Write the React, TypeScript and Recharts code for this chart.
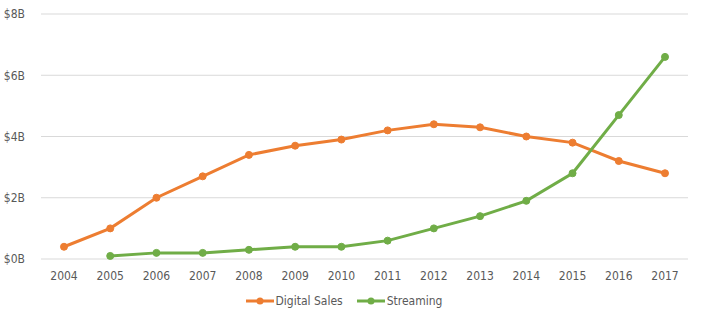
import React from "react";
import { LineChart, Line, XAxis, YAxis, CartesianGrid, Legend } from "recharts";

const years = ["2004", "2005", "2006", "2007", "2008", "2009", "2010", "2011", "2012", "2013", "2014", "2015", "2016", "2017"];
const digitalSales = [0.4, 1.0, 2.0, 2.7, 3.4, 3.7, 3.9, 4.2, 4.4, 4.3, 4.0, 3.8, 3.2, 2.8];
const streaming = [null, 0.1, 0.2, 0.2, 0.3, 0.4, 0.4, 0.6, 1.0, 1.4, 1.9, 2.8, 4.7, 6.6];
const yTicks = [0, 2, 4, 6, 8];

const ORANGE = "#ED7D31";
const GREEN = "#70AD47";
const TEXT = "#595959";
const FONT = "'DejaVu Sans Condensed', 'Liberation Sans Narrow', 'DejaVu Sans', sans-serif";

const data = years.map((y, i) => ({ year: y, digital: digitalSales[i], streaming: streaming[i] }));

const LegendContent = () => {
  const items = [
    { label: "Digital Sales", color: ORANGE },
    { label: "Streaming", color: GREEN },
  ];
  return (
    <div style={{ display: "flex", justifyContent: "center", gap: 14, paddingTop: 9, fontFamily: FONT, fontSize: 12, color: TEXT }}>
      {items.map((it) => (
        <div key={it.label} style={{ display: "flex", alignItems: "center", gap: 2 }}>
          <svg width={28} height={10}>
            <line x1={0} y1={5} x2={28} y2={5} stroke={it.color} strokeWidth={3} />
            <circle cx={14} cy={5} r={3.5} fill={it.color} />
          </svg>
          <span>{it.label}</span>
        </div>
      ))}
    </div>
  );
};

export default function App() {
  return (
    <div style={{ position: "absolute", left: 0, top: 0, background: "#fff" }}>
      <LineChart width={702} height={321} data={data} margin={{ top: 14, right: 14, left: 0, bottom: 0 }}>
        <CartesianGrid vertical={false} stroke="#d9d9d9" strokeWidth={1} />
        <XAxis
          dataKey="year"
          axisLine={false}
          tickLine={false}
          padding={{ left: 23, right: 23 }}
          tick={{ fill: TEXT, fontSize: 12, fontFamily: FONT }}
          height={26}
          tickMargin={6}
        />
        <YAxis
          domain={[0, 8]}
          ticks={yTicks}
          axisLine={false}
          tickLine={false}
          width={41}
          tickMargin={10}
          tickFormatter={(v) => `$${v}B`}
          tick={{ fill: TEXT, fontSize: 12, fontFamily: FONT }}
        />
        <Legend verticalAlign="bottom" height={36} content={<LegendContent />} wrapperStyle={{ height: 36 }} />
        <Line
          type="linear"
          dataKey="digital"
          name="Digital Sales"
          stroke={ORANGE}
          strokeWidth={3}
          dot={{ r: 3.5, fill: ORANGE, stroke: ORANGE, strokeWidth: 1 }}
          isAnimationActive={false}
        />
        <Line
          type="linear"
          dataKey="streaming"
          name="Streaming"
          stroke={GREEN}
          strokeWidth={3}
          dot={{ r: 3.5, fill: GREEN, stroke: GREEN, strokeWidth: 1 }}
          isAnimationActive={false}
        />
      </LineChart>
    </div>
  );
}
